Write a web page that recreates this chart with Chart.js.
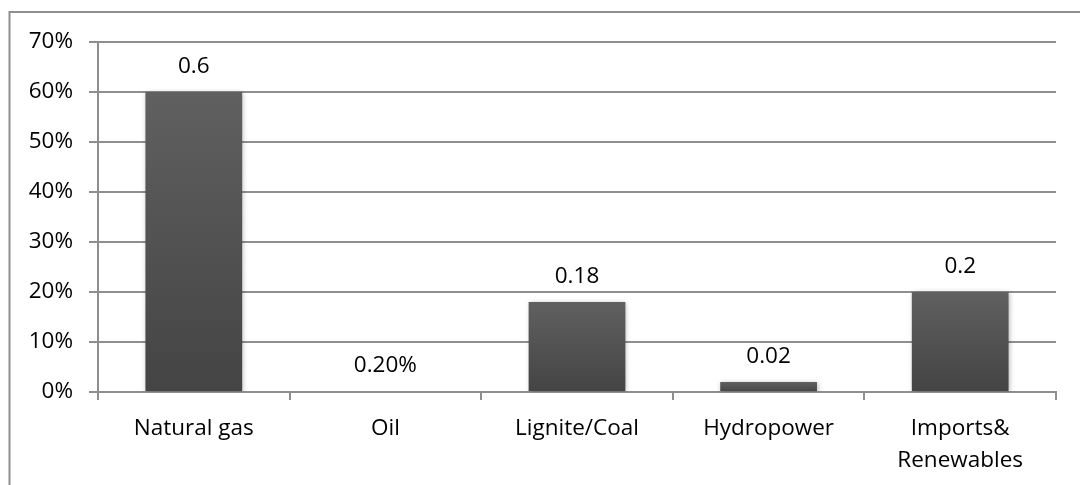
<!DOCTYPE html>
<html>
<head>
<meta charset="utf-8">
<script src="https://cdn.jsdelivr.net/npm/chart.js@4.4.1/dist/chart.umd.min.js"></script>
<style>
  html, body { margin: 0; padding: 0; background: #ffffff; }
  #wrap { width: 1080px; height: 485px; position: relative; }
</style>
</head>
<body>
<div id="wrap"><canvas id="chart" width="1080" height="485"></canvas></div>
<script>
// Electricity generation mix by source
const categories = ["Natural gas", "Oil", "Lignite/Coal", "Hydropower", ["Imports&", "Renewables"]];
const shares = [0.6, 0.002, 0.18, 0.02, 0.2];
const valueLabels = ["0.6", "0.20%", "0.18", "0.02", "0.2"];
const yTicks = [0, 0.1, 0.2, 0.3, 0.4, 0.5, 0.6, 0.7];

const FONT = "'Open Sans', 'DejaVu Sans', sans-serif";
const FONT_SIZE = 22.5;
const GRID = "#8e8e8e";

// Frame around the whole chart (open on the right and bottom edges)
const framePlugin = {
  id: "frame",
  beforeDraw(chart) {
    const ctx = chart.ctx;
    ctx.save();
    ctx.strokeStyle = GRID;
    ctx.lineWidth = 2;
    ctx.beginPath();
    ctx.moveTo(9.5, chart.height + 5);
    ctx.lineTo(9.5, 12);
    ctx.lineTo(chart.width + 5, 12);
    ctx.stroke();
    ctx.restore();
  }
};

// Soft drop shadow under the bars
const shadowPlugin = {
  id: "barShadow",
  beforeDatasetsDraw(chart) {
    const ctx = chart.ctx;
    ctx.save();
    ctx.shadowColor = "rgba(0,0,0,0.30)";
    ctx.shadowBlur = 5;
    ctx.shadowOffsetX = 1;
    ctx.shadowOffsetY = 1;
  },
  afterDatasetsDraw(chart) {
    chart.ctx.restore();
  }
};

// Value text above each bar
const valueLabelPlugin = {
  id: "valueLabels",
  afterDatasetsDraw(chart) {
    const ctx = chart.ctx;
    const meta = chart.getDatasetMeta(0);
    ctx.save();
    ctx.fillStyle = "#000000";
    ctx.font = FONT_SIZE + "px " + FONT;
    ctx.textAlign = "center";
    ctx.textBaseline = "alphabetic";
    meta.data.forEach((bar, i) => {
      ctx.fillText(valueLabels[i], bar.x, bar.y - 19);
    });
    ctx.restore();
  }
};

function barGradient(c) {
  const chart = c.chart;
  if (!chart.chartArea || !c.parsed) return "#555555";
  const y = chart.scales.y;
  const top = y.getPixelForValue(c.parsed.y);
  const bottom = y.getPixelForValue(0);
  const g = chart.ctx.createLinearGradient(0, top, 0, Math.max(bottom, top + 1));
  g.addColorStop(0, "#606060");
  g.addColorStop(1, "#444444");
  return g;
}

new Chart(document.getElementById("chart"), {
  type: "bar",
  data: {
    labels: categories,
    datasets: [{
      data: shares,
      backgroundColor: barGradient,
      borderWidth: 0,
      categoryPercentage: 1.0,
      barPercentage: 0.505
    }]
  },
  options: {
    responsive: false,
    animation: false,
    devicePixelRatio: 1,
    layout: { padding: { left: 0, right: 24, top: 42, bottom: 0 } },
    plugins: {
      legend: { display: false },
      tooltip: { enabled: false }
    },
    scales: {
      x: {
        offset: true,
        grid: {
          offset: true,
          drawOnChartArea: false,
          drawTicks: true,
          tickLength: 8,
          color: GRID,
          lineWidth: 2
        },
        border: { display: true, color: GRID, width: 2 },
        ticks: {
          color: "#000000",
          font: { family: FONT, size: FONT_SIZE, lineHeight: 1.42 },
          padding: 13,
          maxRotation: 0,
          autoSkip: false
        },
        afterFit(scale) { scale.height = 93; }
      },
      y: {
        min: 0,
        max: 0.7,
        afterBuildTicks(scale) {
          scale.ticks = yTicks.map(v => ({ value: v }));
        },
        grid: {
          drawOnChartArea: true,
          drawTicks: true,
          tickLength: 9,
          color: GRID,
          lineWidth: 2
        },
        border: { display: true, color: GRID, width: 2 },
        ticks: {
          color: "#000000",
          font: { family: FONT, size: FONT_SIZE },
          padding: 16,
          callback: v => Math.round(v * 100) + "%"
        },
        afterFit(scale) { scale.width = 98; }
      }
    }
  },
  plugins: [framePlugin, shadowPlugin, valueLabelPlugin]
});
</script>
</body>
</html>
